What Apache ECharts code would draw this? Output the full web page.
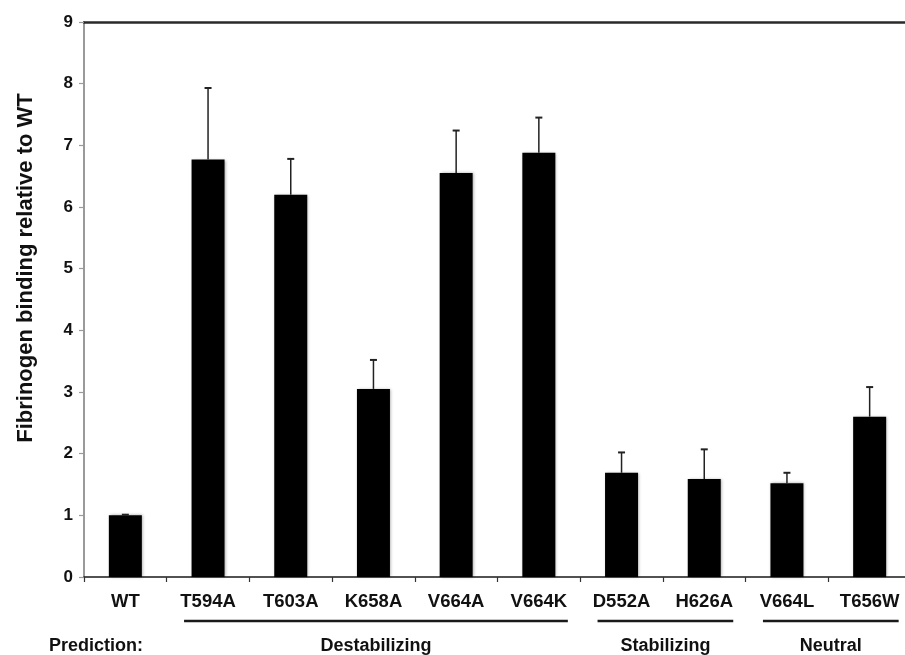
<!DOCTYPE html>
<html>
<head>
<meta charset="utf-8">
<script src="https://cdn.jsdelivr.net/npm/echarts@6/dist/echarts.min.js"></script>
<style>
  html, body { margin: 0; padding: 0; background: #ffffff; overflow: hidden; }
  #chart { width: 905px; height: 655px; }
</style>
</head>
<body>
<div id="chart"></div>
<script>
// Mutants and their fibrinogen binding (relative to wild type)
const categories = ['WT', 'T594A', 'T603A', 'K658A', 'V664A', 'V664K', 'D552A', 'H626A', 'V664L', 'T656W'];
const binding = [1.0, 6.77, 6.2, 3.05, 6.55, 6.88, 1.69, 1.59, 1.52, 2.6];
const errorUp = [0.01, 1.16, 0.58, 0.47, 0.69, 0.57, 0.33, 0.48, 0.17, 0.48];
const yTicks = [0, 1, 2, 3, 4, 5, 6, 7, 8, 9];

// Prediction groups (index ranges into categories)
const groupNames = ['Destabilizing', 'Stabilizing', 'Neutral'];
const groupFrom = [1, 6, 8];
const groupTo = [5, 7, 9];
const predictionLabel = 'Prediction:';
const yTitle = 'Fibrinogen binding relative to WT';

const FONT = '"Liberation Sans", Arial, Helvetica, sans-serif';
const INK = '#111111';

const chart = echarts.init(document.getElementById('chart'), null, { renderer: 'canvas' });

const option = {
  animation: false,
  backgroundColor: '#ffffff',
  // plot area runs slightly past the right edge of the canvas
  grid: { left: 84, top: 22, width: 827, bottom: 78, containLabel: false, outerBoundsMode: 'none' },
  xAxis: [
    {
      type: 'category',
      data: categories,
      position: 'bottom',
      axisLine: { lineStyle: { color: '#1a1a1a', width: 1.5 } },
      axisTick: { show: true, length: 5, inside: false, lineStyle: { color: '#333', width: 1.2 } },
      axisLabel: { color: INK, fontFamily: FONT, fontWeight: 'bold', fontSize: 18.5, margin: 15 }
    },
    {
      type: 'category',
      data: categories,
      position: 'top',
      axisLine: { show: true, lineStyle: { color: '#2a2a2a', width: 2.5 } },
      axisTick: { show: false },
      axisLabel: { show: false }
    }
  ],
  yAxis: {
    type: 'value',
    min: yTicks[0],
    max: yTicks[yTicks.length - 1],
    interval: 1,
    splitLine: { show: false },
    axisLine: { show: true, lineStyle: { color: '#9a9a9a', width: 2 } },
    axisTick: { show: true, length: 5, lineStyle: { color: '#9a9a9a', width: 1.2 } },
    axisLabel: { color: INK, fontFamily: FONT, fontWeight: 'bold', fontSize: 17, margin: 11 }
  },
  series: [
    {
      type: 'bar',
      data: binding,
      barWidth: 33,
      itemStyle: {
        color: '#000000',
        shadowColor: 'rgba(0,0,0,0.35)',
        shadowBlur: 3,
        shadowOffsetX: 1
      },
      z: 2
    },
    {
      type: 'custom',
      z: 3,
      data: binding.map((v, i) => [i, v, v + errorUp[i]]),
      renderItem: function (params, api) {
        const i = api.value(0);
        const base = api.coord([i, api.value(1)]);
        const top = api.coord([i, api.value(2)]);
        const cap = 3.5;
        return {
          type: 'group',
          children: [
            { type: 'line', shape: { x1: base[0], y1: base[1], x2: top[0], y2: top[1] },
              style: { stroke: '#222', lineWidth: 1.5 } },
            { type: 'line', shape: { x1: top[0] - cap, y1: top[1], x2: top[0] + cap, y2: top[1] },
              style: { stroke: '#222', lineWidth: 2 } }
          ]
        };
      }
    }
  ]
};

chart.setOption(option);

// Group underlines and labels, placed from the category axis positions
const lineY = 621;
const labelY = 646;
const graphics = [
  {
    type: 'text', x: 26, y: 268, rotation: Math.PI / 2,
    style: { text: yTitle, fill: INK, font: 'bold 22px ' + FONT, align: 'center', verticalAlign: 'middle' }
  },
  {
    type: 'text', x: 49, y: labelY,
    style: { text: predictionLabel, fill: INK, font: 'bold 18px ' + FONT, align: 'left', verticalAlign: 'middle' }
  }
];
groupNames.forEach((name, g) => {
  const xa = chart.convertToPixel({ xAxisIndex: 0 }, categories[groupFrom[g]]) - 24;
  const xb = chart.convertToPixel({ xAxisIndex: 0 }, categories[groupTo[g]]) + 29;
  graphics.push({
    type: 'line', shape: { x1: xa, y1: lineY, x2: xb, y2: lineY },
    style: { stroke: '#1a1a1a', lineWidth: 2.5 }
  });
  graphics.push({
    type: 'text', x: (xa + xb) / 2, y: labelY,
    style: { text: name, fill: INK, font: 'bold 18px ' + FONT, align: 'center', verticalAlign: 'middle' }
  });
});
chart.setOption({ graphic: graphics });
</script>
</body>
</html>
